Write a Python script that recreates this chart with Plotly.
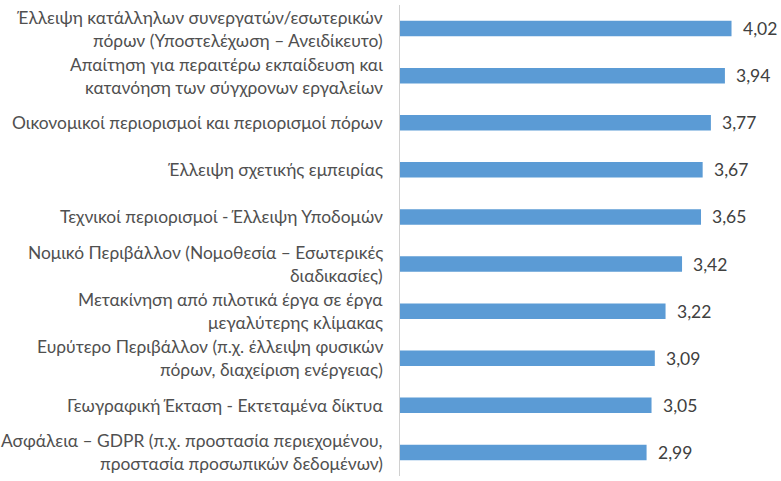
import plotly.graph_objects as go

categories = [
    "Έλλειψη κατάλληλων συνεργατών/εσωτερικών<br>πόρων (Υποστελέχωση – Ανειδίκευτο)",
    "Απαίτηση για περαιτέρω εκπαίδευση και<br>κατανόηση των σύγχρονων εργαλείων",
    "Οικονομικοί περιορισμοί και περιορισμοί πόρων",
    "Έλλειψη σχετικής εμπειρίας",
    "Τεχνικοί περιορισμοί - Έλλειψη Υποδομών",
    "Νομικό Περιβάλλον (Νομοθεσία – Εσωτερικές<br>διαδικασίες)",
    "Μετακίνηση από πιλοτικά έργα σε έργα<br>μεγαλύτερης κλίμακας",
    "Ευρύτερο Περιβάλλον (π.χ. έλλειψη φυσικών<br>πόρων, διαχείριση ενέργειας)",
    "Γεωγραφική Έκταση - Εκτεταμένα δίκτυα",
    "Ασφάλεια – GDPR (π.χ. προστασία περιεχομένου,<br>προστασία προσωπικών δεδομένων)",
]
values = [4.02, 3.94, 3.77, 3.67, 3.65, 3.42, 3.22, 3.09, 3.05, 2.99]
value_labels = [f"{v:.2f}".replace(".", ",") for v in values]

fig = go.Figure(go.Bar(
    x=values, y=list(range(len(categories))), orientation="h",
    marker=dict(color="#5B9BD5", line=dict(width=0)),
    hoverinfo="skip",
))

annotations = []
for i, (cat, lab, v) in enumerate(zip(categories, value_labels, values)):
    lines = cat.split("<br>")
    n = len(lines)
    spacing = 23
    for j, line in enumerate(lines):
        annotations.append(dict(
            x=0, y=i, xref="x", yref="y", text=line, showarrow=False,
            xanchor="right", yanchor="middle", xshift=-15,
            yshift=((n - 1) / 2 - j) * spacing,
            font=dict(family="Lato", size=17.4, color="#505050"),
        ))
    annotations.append(dict(
        x=v, y=i, xref="x", yref="y", text=lab, showarrow=False,
        xanchor="left", yanchor="middle", xshift=9,
        font=dict(family="Lato", size=17.5, color="#404040"),
    ))

fig.update_layout(
    width=781, height=481,
    margin=dict(l=400, r=0, t=5, b=5),
    paper_bgcolor="white", plot_bgcolor="white",
    bargap=0.67,
    showlegend=False,
    annotations=annotations,
    xaxis=dict(range=[0, 4.62], showgrid=False, zeroline=False,
               showticklabels=False, ticks="", fixedrange=True),
    yaxis=dict(range=[len(categories) - 0.5, -0.5], showgrid=False,
               zeroline=False, showticklabels=False, ticks="",
               showline=True, linecolor="#d0d0d0", linewidth=1,
               fixedrange=True),
)

fig.write_html("out.html")
